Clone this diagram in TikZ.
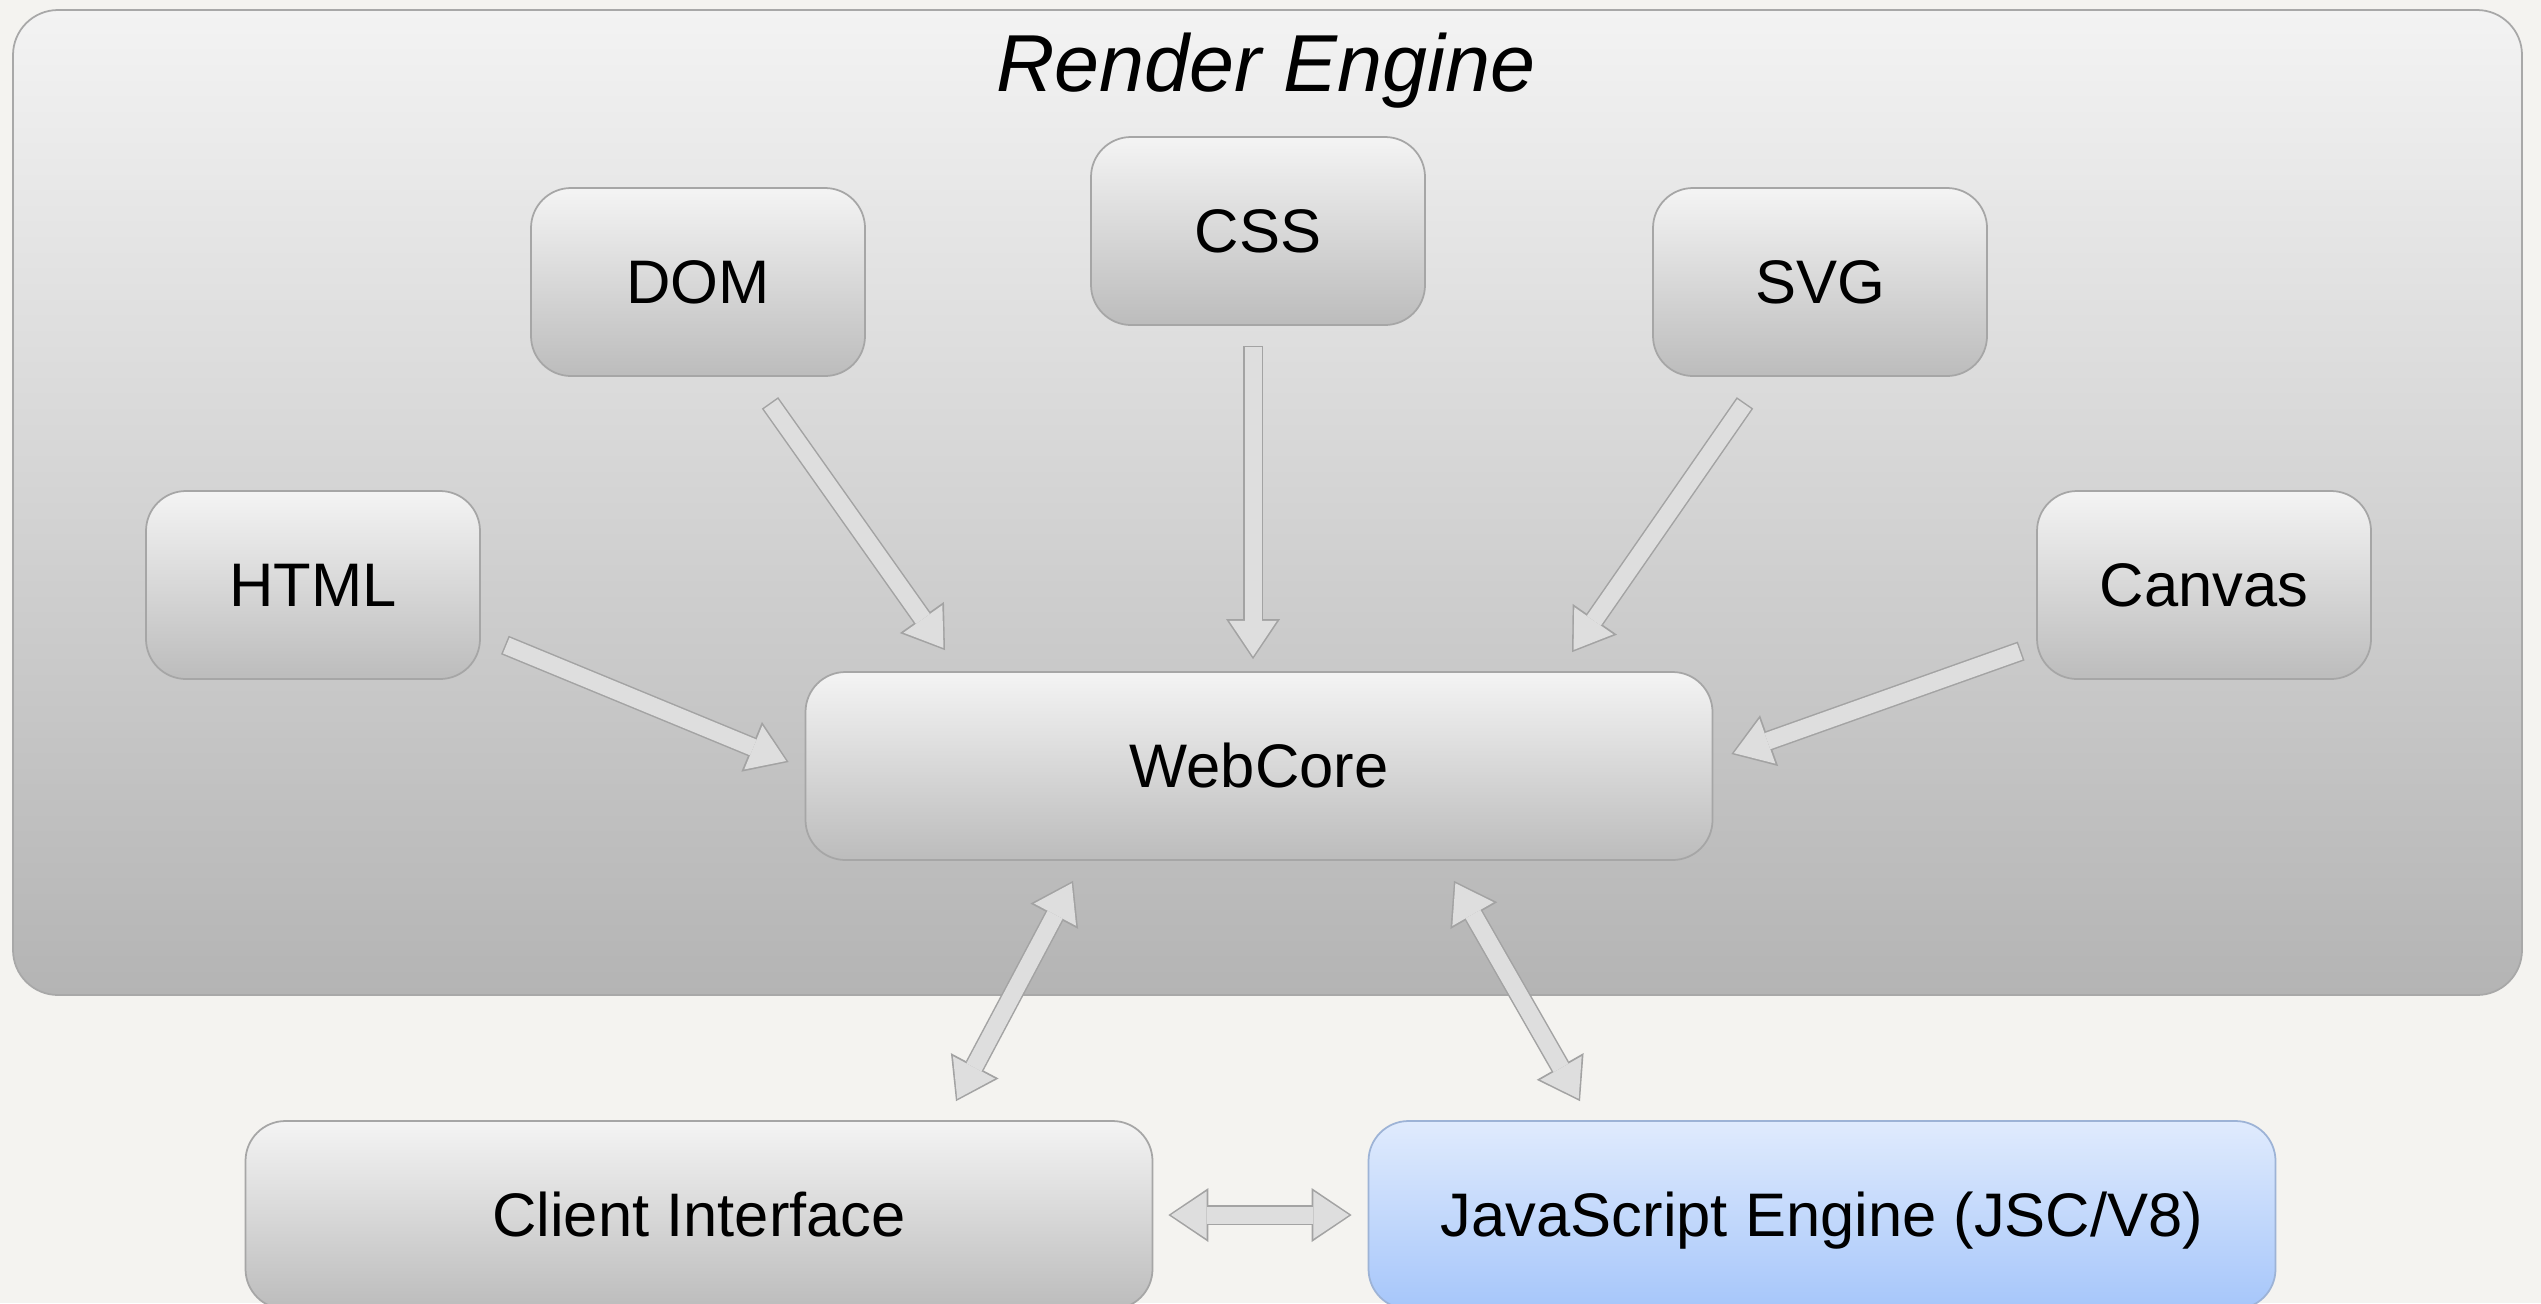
\documentclass[tikz,border=0pt]{standalone}
\usepackage{fontspec}
\setmainfont{Liberation Sans}
\usetikzlibrary{arrows.meta,positioning,calc}

\definecolor{paper}{HTML}{F4F3F0}
\definecolor{frametop}{HTML}{F3F3F3}
\definecolor{framebot}{HTML}{B4B4B4}
\definecolor{frameline}{HTML}{A8A8A8}
\definecolor{boxtop}{HTML}{F4F4F4}
\definecolor{boxbot}{HTML}{BCBCBC}
\definecolor{boxline}{HTML}{A6A6A6}
\definecolor{jstop}{HTML}{E0EBFD}
\definecolor{jsbot}{HTML}{A6C6FA}
\definecolor{jsline}{HTML}{9DB3D6}
\definecolor{arrfill}{HTML}{DEDEDE}
\definecolor{arrline}{HTML}{A3A3A3}

\tikzset{
  OutTip/.tip={Triangle[length=4mm,width=5.4mm,line width=0pt]},
  InTip/.tip={Triangle[length=3.55mm,width=4.75mm,line width=0pt]}
}

\begin{document}
\begin{tikzpicture}[x=0.1mm,y=-0.1mm]
  \tikzset{
  frame/.style = {rectangle, rounded corners=4.5mm, draw=frameline, line width=0.5pt,
    top color=frametop, bottom color=framebot, minimum width=250.9mm,
    minimum height=98.5mm},% outer box
  box_g/.style = {rectangle, rounded corners=4mm, draw=boxline, line width=0.5pt,
    top color=boxtop, bottom color=boxbot, minimum width=33.4mm,
    minimum height=18.8mm, text height=12.4pt, text depth=0pt,
    font=\fontsize{17.5}{20}\selectfont},% grey box
  box_w/.style = {box_g, minimum width=90.7mm},% wide grey box
  box_b/.style = {box_w, draw=jsline, top color=jstop, bottom color=jsbot},% blue box
  blk_arr/.style = {draw=arrfill, line width=1.7mm, -InTip, shorten >=0.27mm,
    shorten <=0.15mm, preaction={draw=arrline, line width=2mm, -OutTip,
    shorten >=0pt, shorten <=0pt}},% block arrow
  blk_dbl/.style = {draw=arrfill, line width=1.7mm, InTip-InTip, shorten >=0.27mm,
    shorten <=0.27mm, preaction={draw=arrline, line width=2mm, OutTip-OutTip,
    shorten >=0pt, shorten <=0pt}}% double block arrow
}

\useasboundingbox (0,0) rectangle (2541,1303);
\clip (0,0) rectangle (2541,1303);
\fill[paper] (0,0) rectangle (2541,1303);

\node [frame] (engine) at (1267.5,502.5) {};
\node [font=\fontsize{23}{27}\selectfont\itshape] (title) at (1266,71) {Render Engine};

\node [box_g] (dom) at (698,282) {DOM};
\node [box_g] (css) at (1258,231) {CSS};
\node [box_g] (svg) at (1820,282) {SVG};
\node [box_g] (html) at (313,585) {HTML};
\node [box_g] (canvas) at (2204,585) {Canvas};
\node [box_w] (webcore) at (1259,766) {WebCore};
\node [box_w] (client) at (699,1215) {Client Interface};
\node [box_b] (js) at (1822,1215) {JavaScript Engine (JSC/V8)};

\draw[blk_arr] ([shift={(72,26)}]dom.south) -- ([shift={(-314,-21)}]webcore.north);
\draw[blk_arr] ([shift={(-5,20)}]css.south) -- ([shift={(-6,-12)}]webcore.north);
\draw[blk_arr] ([shift={(-75,26)}]svg.south) -- ([shift={(313,-19)}]webcore.north);
\draw[blk_arr] ([shift={(24,60)}]html.east) -- ([shift={(-16,-4)}]webcore.west);
\draw[blk_arr] ([shift={(-15,66)}]canvas.west) -- ([shift={(18,-12)}]webcore.east);
\draw[blk_dbl] ([shift={(257,-19)}]client.north) -- ([shift={(-186,20)}]webcore.south);
\draw[blk_dbl] ([shift={(-242,-19)}]js.north) -- ([shift={(195,20)}]webcore.south);
\draw[blk_dbl] ([shift={(15,0)}]client.east) -- ([shift={(-16,0)}]js.west);
\end{tikzpicture}
\end{document}
